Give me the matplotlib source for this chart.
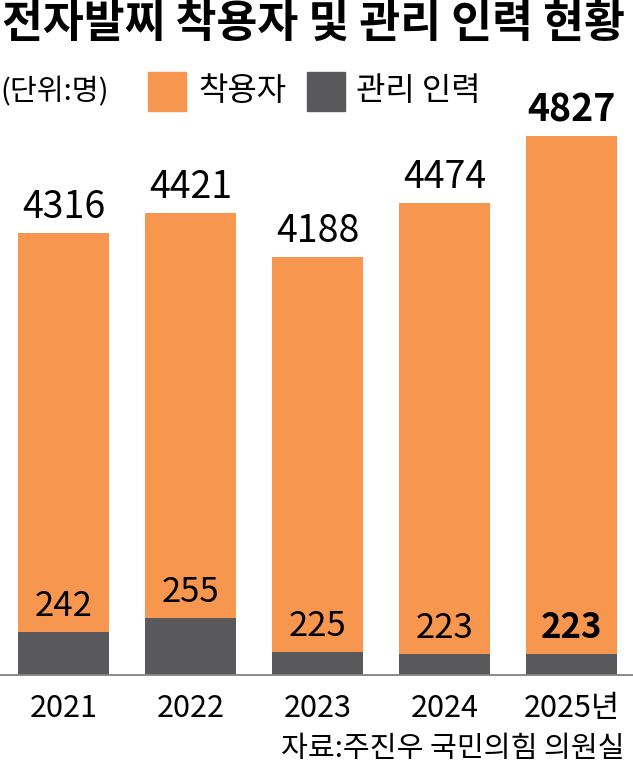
import matplotlib.pyplot as plt
from matplotlib.patches import Rectangle

plt.rcParams["font.family"] = ["Noto Sans CJK KR", "DejaVu Sans"]

# --- Data ---
years = ["2021", "2022", "2023", "2024", "2025년"]
wearers = [4316, 4421, 4188, 4474, 4827]
staff = [242, 255, 225, 223, 223]

COLOR_WEARER = "#F7964F"
COLOR_STAFF = "#59595B"

W, H = 633, 766
fig = plt.figure(figsize=(W / 100, H / 100), dpi=100)

# axes from baseline (y=675px) up to y=100px, full width
ax = fig.add_axes([0, (H - 675) / H, 1, 575 / H])
ax2 = ax.twinx()

x = list(range(len(years)))
ax.bar(x, wearers, width=0.717, color=COLOR_WEARER, zorder=2)
ax2.bar(x, staff, width=0.717, color=COLOR_STAFF, zorder=2)

# both value scales are truncated in the original graphic
ax.set_ylim(1982, 5016)
ax2.set_ylim(205, 705)
ax.set_xlim(-0.5, 4.484)

for i, v in enumerate(wearers):
    ax.annotate(f"{v}", (i, v), xytext=(0, 10.5), textcoords="offset points",
                ha="center", va="baseline", fontsize=27,
                fontweight="bold" if i == len(years) - 1 else "normal")
for i, v in enumerate(staff):
    ax2.annotate(f"{v}", (i, v), xytext=(0, 11.5), textcoords="offset points",
                 ha="center", va="baseline", fontsize=25,
                 fontweight="bold" if i == len(years) - 1 else "normal")

ax.set_xticks(x)
ax.set_xticklabels(years, fontsize=22)
ax.tick_params(axis="x", length=0, pad=13)
ax.set_yticks([])
ax2.set_yticks([])
for a in (ax, ax2):
    for side in ("top", "left", "right"):
        a.spines[side].set_visible(False)
    a.spines["bottom"].set_color("#8a8a8a")
    a.spines["bottom"].set_linewidth(1.2)
ax.patch.set_visible(False)

# title, unit, legend, source
fig.text(2 / W, 1 - 24 / H, "전자발찌 착용자 및 관리 인력 현황", fontsize=32,
         fontweight="bold", va="center", ha="left")
fig.text(0, 1 - 92 / H, "(단위:명)", fontsize=21, va="center", ha="left")
fig.add_artist(Rectangle((148 / W, 1 - 111 / H), 38 / W, 39 / H,
                         transform=fig.transFigure, color=COLOR_WEARER))
fig.text(198 / W, 1 - 91 / H, "착용자", fontsize=23, va="center", ha="left")
fig.add_artist(Rectangle((307 / W, 1 - 111 / H), 38 / W, 39 / H,
                         transform=fig.transFigure, color=COLOR_STAFF))
fig.text(356 / W, 1 - 91 / H, "관리 인력", fontsize=23, va="center", ha="left")
fig.text(625 / W, 1 - 749 / H, "자료:주진우 국민의힘 의원실", fontsize=21,
         va="center", ha="right")

fig.savefig("out.png", dpi=100)
